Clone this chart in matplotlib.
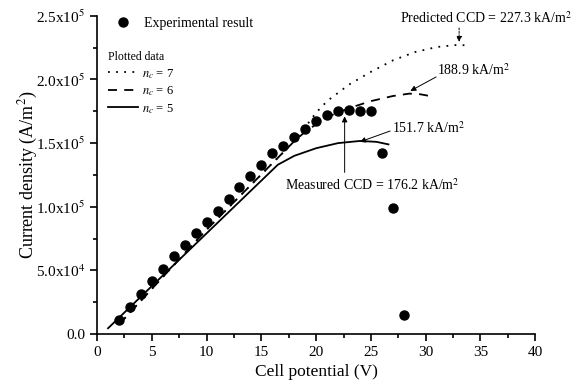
import matplotlib
matplotlib.use("Agg")
import matplotlib.pyplot as plt
from matplotlib.ticker import MultipleLocator, FuncFormatter
from matplotlib.lines import Line2D

plt.rcParams['font.family'] = ['Liberation Serif', 'DejaVu Serif']
plt.rcParams['mathtext.fontset'] = 'stix'

# experimental result (V, A/m2)
exp_v = [2, 3, 4, 5, 6, 7, 8, 9, 10, 11, 12, 13, 14, 15, 16, 17, 18, 19, 20,
         21, 22, 23, 24, 25, 26, 27, 28]
exp_j = [11000, 21000, 31500, 41700, 51000, 61000, 70000, 79000, 88000, 97000,
         106000, 115500, 124000, 133000, 142000, 148000, 155000, 161000, 167500,
         172000, 175000, 176000, 175000, 175000, 142000, 99000, 15000]

# model curves
nc7_v = [2, 10, 18, 19, 20, 21, 23, 25, 27, 29, 31, 33, 34]
nc7_j = [7500, 82000, 151500, 162500, 174000, 183000, 196000, 206000, 215000,
         221500, 225500, 227300, 226500]
nc6_v = [2, 10, 18, 19, 21, 23, 25, 27, 28.5, 29.5, 30.7]
nc6_j = [7500, 82000, 151500, 159000, 170500, 177500, 183000, 187000, 188900,
         188400, 186500]
nc5_v = [1, 16.5, 18, 20, 22, 24, 25.5, 26.6]
nc5_j = [4500, 133000, 140000, 146000, 150000, 151700, 151000, 149000]

fig = plt.figure(figsize=(5.78, 3.87), dpi=100)
ax = fig.add_axes([0.168, 0.137, 0.758, 0.822])

ax.plot(nc7_v, nc7_j, color='black', lw=1.3, linestyle=(0, (1, 3.5)))
ax.plot(nc6_v, nc6_j, color='black', lw=1.3, linestyle=(0, (5, 4)))
ax.plot(nc5_v, nc5_j, color='black', lw=1.3, linestyle='-')
ax.plot(exp_v, exp_j, 'o', color='black', ms=6.5, zorder=5)

ax.set_xlim(0, 40)
ax.set_ylim(0, 250000)
ax.xaxis.set_major_locator(MultipleLocator(5))
ax.xaxis.set_minor_locator(MultipleLocator(2.5))
ax.yaxis.set_major_locator(MultipleLocator(50000))
ax.yaxis.set_minor_locator(MultipleLocator(25000))


def yfmt(val, pos):
    if val == 0:
        return '0.0'
    exp = len(str(int(val))) - 1
    return r'%.1fx10$^{%d}$' % (val / 10 ** exp, exp)


ax.yaxis.set_major_formatter(FuncFormatter(yfmt))
for s in ['top', 'right']:
    ax.spines[s].set_visible(False)
for s in ['left', 'bottom']:
    ax.spines[s].set_linewidth(1.2)
ax.tick_params(which='major', direction='out', length=5, width=1.2, labelsize=11)
ax.tick_params(which='minor', direction='out', length=3, width=1.2)

ax.set_xlabel('Cell potential (V)', fontsize=12.5, labelpad=4)
ax.set_ylabel(r'Current density (A/m$^2$)', fontsize=13)
ax.yaxis.set_label_coords(-0.13, 0.5)

# legends
h_exp = [Line2D([], [], marker='o', color='black', ls='', ms=6.5)]
leg1 = ax.legend(h_exp, ['Experimental result'], loc='upper left',
                 bbox_to_anchor=(0.0, 1.035), frameon=False, fontsize=10,
                 handletextpad=0.5)
ax.add_artist(leg1)
h_mod = [Line2D([], [], color='black', lw=1.3, ls=(0, (1, 3.5))),
         Line2D([], [], color='black', lw=1.3, ls=(0, (5, 4))),
         Line2D([], [], color='black', lw=1.3, ls='-')]
leg2 = ax.legend(h_mod, [r'$n_c$ = 7', r'$n_c$ = 6', r'$n_c$ = 5'],
                 loc='upper left', bbox_to_anchor=(0.0, 0.925), frameon=False,
                 fontsize=9, title='Plotted data', title_fontsize=8.5,
                 handlelength=2.4, handletextpad=0.3, labelspacing=0.3,
                 alignment='left')

# annotations
ap = dict(arrowstyle='-|>', color='black', lw=0.7, mutation_scale=8,
          shrinkA=0, shrinkB=0)
ax.text(35.5, 248500, r'Predicted CCD = 227.3 kA/m$^2$', ha='center',
        va='center', fontsize=10)
ax.annotate('', xy=(33.05, 229500), xytext=(33.05, 240500),
            arrowprops=dict(ap, linestyle=(0, (2, 1.5))))
ax.text(31.05, 207500, r'188.9 kA/m$^2$', ha='left', va='center', fontsize=10)
ax.annotate('', xy=(28.6, 191000), xytext=(30.95, 202000), arrowprops=ap)
ax.text(26.9, 162000, r'151.7 kA/m$^2$', ha='left', va='center', fontsize=10)
ax.annotate('', xy=(24.0, 151000), xytext=(26.75, 159500), arrowprops=ap)
ax.text(25.1, 117000, r'Measured CCD = 176.2 kA/m$^2$', ha='center',
        va='center', fontsize=10)
ax.annotate('', xy=(22.6, 171000), xytext=(22.6, 127000), arrowprops=ap)

fig.savefig('out.png', dpi=100)
